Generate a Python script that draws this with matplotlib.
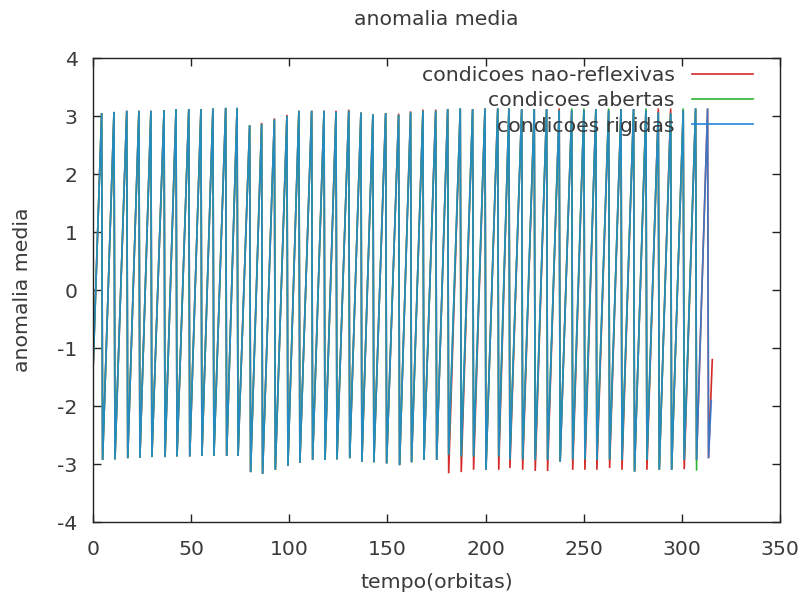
import matplotlib
matplotlib.use("Agg")
import matplotlib.pyplot as plt
import numpy as np

# ---- data (times in orbits, values in rad) ----
start_t = 0.0
start_val = -1.4

peak_t = [4.4, 10.7, 17.2, 23.4, 29.5, 36.2, 42.3, 48.8, 55.0, 61.1,
          67.6, 73.4, 79.8, 85.9, 92.4, 98.8, 104.9, 111.4, 117.7, 123.8,
          130.3, 136.5, 142.6, 149.1, 155.7, 161.8, 168.1, 174.6, 180.7, 187.1,
          193.4, 199.7, 206.2, 211.9, 218.4, 224.8, 231.1, 237.5, 243.9, 250.1,
          256.2, 262.7, 269.0, 275.4, 281.7, 288.0, 294.3, 300.7, 307.0, 313.1]

trough_t = [4.9, 11.2, 17.7, 23.9, 30.0, 36.7, 42.8, 49.3, 55.5, 61.6,
            68.1, 73.9, 80.3, 86.4, 92.9, 99.3, 105.4, 111.9, 118.2, 124.3,
            130.8, 137.0, 143.1, 149.6, 156.2, 162.3, 168.6, 175.1, 181.2, 187.6,
            193.9, 200.2, 206.7, 212.4, 218.9, 225.3, 231.6, 238.0, 244.4, 250.6,
            256.7, 263.2, 269.5, 275.9, 282.2, 288.5, 294.8, 301.2, 307.5, 313.6]

rigidas_peak = [3.05, 3.07, 3.09, 3.09, 3.09, 3.10, 3.12, 3.12, 3.12, 3.13,
                3.14, 3.14, 2.84, 2.86, 2.94, 3.00, 3.09, 3.09, 3.09, 3.07,
                3.09, 3.06, 3.03, 3.05, 3.02, 3.06, 3.09, 3.09, 3.12, 3.13,
                3.12, 3.13, 3.13, 3.13, 3.12, 3.12, 3.12, 3.10, 3.10, 3.10,
                3.12, 3.10, 3.12, 3.12, 3.10, 3.06, 3.05, 3.10, 3.13, 3.13]
rigidas_trough = [-2.93, -2.92, -2.90, -2.89, -2.88, -2.88, -2.87, -2.87, -2.86, -2.86,
                  -2.86, -2.86, -3.14, -3.17, -3.10, -3.03, -2.98, -2.93, -2.93, -2.92,
                  -2.90, -2.96, -2.97, -2.99, -3.02, -2.97, -2.93, -2.93, -2.84, -2.87,
                  -2.87, -3.10, -2.87, -2.92, -2.92, -2.93, -2.93, -2.96, -2.92, -2.92,
                  -2.93, -2.92, -2.93, -3.13, -2.93, -3.10, -3.10, -2.93, -2.93, -2.90]
rigidas_end_t = 315.0
rigidas_end_val = -1.9

nao_refl_peak = [3.05, 3.07, 3.09, 3.09, 3.09, 3.10, 3.12, 3.12, 3.12, 3.13,
                 3.14, 3.14, 2.84, 2.88, 2.96, 3.02, 3.09, 3.09, 3.09, 3.09,
                 3.11, 3.06, 3.03, 3.05, 3.04, 3.08, 3.11, 3.11, 3.12, 3.13,
                 3.12, 3.13, 3.13, 3.13, 3.12, 3.12, 3.12, 3.13, 3.10, 3.10,
                 3.12, 3.10, 3.12, 3.12, 3.10, 3.13, 3.13, 3.10, 3.13, 3.13]
nao_refl_trough = [-2.93, -2.92, -2.90, -2.89, -2.88, -2.88, -2.87, -2.87, -2.86, -2.86,
                   -2.86, -2.86, -3.14, -3.17, -3.10, -3.03, -2.98, -2.93, -2.93, -2.92,
                   -2.90, -2.96, -2.97, -2.99, -3.02, -2.97, -2.93, -2.93, -3.16, -3.14,
                   -3.10, -3.10, -3.10, -3.07, -3.10, -3.12, -3.12, -2.96, -3.10, -3.10,
                   -3.10, -3.07, -3.10, -3.13, -3.10, -3.10, -3.10, -3.09, -2.93, -2.90]
nao_refl_end_t = 315.5
nao_refl_end_val = -1.2

abertas_peak = [3.05, 3.07, 3.09, 3.09, 3.09, 3.10, 3.12, 3.12, 3.12, 3.13,
                3.14, 3.14, 2.84, 2.86, 2.94, 3.00, 3.09, 3.09, 3.09, 3.07,
                3.09, 3.06, 3.03, 3.05, 3.02, 3.06, 3.09, 3.09, 3.12, 3.13,
                3.12, 3.13, 3.13, 3.13, 3.12, 3.12, 3.12, 3.10, 3.13, 3.13,
                3.12, 3.13, 3.12, 3.12, 3.13, 3.06, 3.05, 3.13, 3.13]
abertas_trough = [-2.93, -2.92, -2.90, -2.89, -2.88, -2.88, -2.87, -2.87, -2.86, -2.86,
                  -2.86, -2.86, -3.14, -3.17, -3.10, -3.03, -2.98, -2.93, -2.93, -2.92,
                  -2.90, -2.96, -2.97, -2.99, -3.02, -2.97, -2.93, -2.93, -2.84, -2.87,
                  -2.87, -3.10, -2.87, -2.92, -2.92, -2.93, -2.93, -2.96, -2.92, -2.92,
                  -2.93, -2.92, -2.93, -3.13, -2.93, -3.10, -3.10, -2.93, -3.10]

labels = ["condicoes nao-reflexivas", "condicoes abertas", "condicoes rigidas"]
colors = ["#d42a2a", "#2db52d", "#2484dc"]


def build(peaks, troughs, end_t=None, end_val=None):
    n = len(peaks)
    t = [start_t]
    v = [start_val]
    for i in range(n):
        t += [peak_t[i], trough_t[i]]
        v += [peaks[i], troughs[i]]
    if end_t is not None:
        t.append(end_t)
        v.append(end_val)
    return np.array(t), np.array(v)


series = [
    build(nao_refl_peak, nao_refl_trough, nao_refl_end_t, nao_refl_end_val),
    build(abertas_peak, abertas_trough),
    build(rigidas_peak, rigidas_trough, rigidas_end_t, rigidas_end_val),
]

plt.rcParams["font.family"] = ["DejaVu Sans"]
plt.rcParams["axes.unicode_minus"] = False
fig = plt.figure(figsize=(8.03, 5.95), dpi=100)
ax = fig.add_axes([93 / 803, 1 - 522 / 595, 687 / 803, 464 / 595])

alphas = [1.0, 1.0, 0.85]
for (t, v), lab, c, a in zip(series, labels, colors, alphas):
    ax.plot(t, v, color=c, lw=1.2, label=lab, alpha=a, solid_joinstyle="miter")

ax.set_xlim(0, 350)
ax.set_ylim(-4, 4)
ax.set_xticks(np.arange(0, 351, 50))
ax.set_yticks(np.arange(-4, 5, 1))

fs = 14.7
txtc = "#3a3a3a"
ax.tick_params(direction="in", length=6, width=1, top=True, right=True,
               labelsize=fs, colors="#222222", labelcolor=txtc)
ax.tick_params(axis="y", pad=11)
ax.tick_params(axis="x", pad=13)
for s in ax.spines.values():
    s.set_color("#222222")
    s.set_linewidth(1.0)

ax.set_title("anomalia media", fontsize=fs, color=txtc, pad=24)
ax.set_xlabel("tempo(orbitas)", fontsize=fs, color=txtc, labelpad=10)
ax.set_ylabel("anomalia media", fontsize=fs, color=txtc, labelpad=18)

leg = ax.legend(loc="upper right", bbox_to_anchor=((753 - 93) / 687, 0.982),
                frameon=False, markerfirst=False, fontsize=fs,
                handlelength=3.0, handletextpad=0.85, labelspacing=0.30,
                borderaxespad=0, borderpad=0)
for txt in leg.get_texts():
    txt.set_color(txtc)
for line in leg.get_lines():
    line.set_alpha(1.0)

fig.savefig("out.png", dpi=100)
